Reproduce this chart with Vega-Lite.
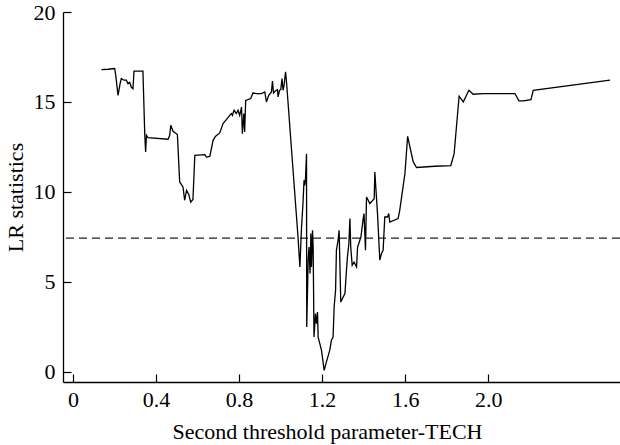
{
  "$schema": "https://vega.github.io/schema/vega-lite/v6.json",
  "autosize": "none",
  "width": 557,
  "height": 370,
  "padding": {"left": 63, "top": 12, "right": 0, "bottom": 63},
  "background": "white",
  "config": {
    "view": {"stroke": null},
    "font": "Liberation Serif",
    "axis": {
      "domainColor": "black",
      "domainWidth": 1.3,
      "tickColor": "black",
      "tickWidth": 1.2,
      "tickSize": -8,
      "grid": false,
      "labelFont": "Liberation Serif",
      "labelFontSize": 22,
      "labelColor": "black",
      "titleFont": "Liberation Serif",
      "titleFontSize": 22,
      "titleFontWeight": "normal",
      "titleColor": "black"
    }
  },
  "datasets": {
    "lr": [
      {"x": 0.137, "y": 16.80}, {"x": 0.169, "y": 16.82}, {"x": 0.201, "y": 16.86}, {"x": 0.206, "y": 16.48},
      {"x": 0.217, "y": 15.37}, {"x": 0.227, "y": 16.02}, {"x": 0.233, "y": 16.30}, {"x": 0.246, "y": 16.21},
      {"x": 0.257, "y": 16.21}, {"x": 0.265, "y": 16.02}, {"x": 0.273, "y": 16.09}, {"x": 0.281, "y": 15.83},
      {"x": 0.289, "y": 15.74}, {"x": 0.294, "y": 16.72}, {"x": 0.313, "y": 16.72}, {"x": 0.337, "y": 16.71},
      {"x": 0.346, "y": 13.15}, {"x": 0.350, "y": 12.22}, {"x": 0.354, "y": 13.15}, {"x": 0.361, "y": 13.02},
      {"x": 0.458, "y": 12.93}, {"x": 0.466, "y": 13.15}, {"x": 0.471, "y": 13.71}, {"x": 0.482, "y": 13.37},
      {"x": 0.503, "y": 13.19}, {"x": 0.514, "y": 10.56}, {"x": 0.530, "y": 10.28}, {"x": 0.538, "y": 9.54},
      {"x": 0.547, "y": 10.09}, {"x": 0.558, "y": 9.86}, {"x": 0.567, "y": 9.44}, {"x": 0.578, "y": 9.59},
      {"x": 0.587, "y": 12.04}, {"x": 0.635, "y": 12.08}, {"x": 0.643, "y": 11.94}, {"x": 0.659, "y": 11.98},
      {"x": 0.675, "y": 12.87}, {"x": 0.686, "y": 13.09}, {"x": 0.707, "y": 13.28}, {"x": 0.723, "y": 13.80},
      {"x": 0.739, "y": 14.02}, {"x": 0.755, "y": 14.26}, {"x": 0.763, "y": 14.36}, {"x": 0.768, "y": 14.26},
      {"x": 0.776, "y": 14.54}, {"x": 0.787, "y": 14.36}, {"x": 0.795, "y": 14.54}, {"x": 0.803, "y": 14.26},
      {"x": 0.812, "y": 14.72}, {"x": 0.816, "y": 13.24}, {"x": 0.823, "y": 14.36}, {"x": 0.827, "y": 13.33},
      {"x": 0.832, "y": 15.09}, {"x": 0.843, "y": 15.13}, {"x": 0.856, "y": 15.19}, {"x": 0.867, "y": 15.50},
      {"x": 0.884, "y": 15.47}, {"x": 0.908, "y": 15.47}, {"x": 0.924, "y": 15.56}, {"x": 0.932, "y": 15.00},
      {"x": 0.943, "y": 15.37}, {"x": 0.956, "y": 15.56}, {"x": 0.961, "y": 16.17}, {"x": 0.966, "y": 15.50},
      {"x": 0.975, "y": 15.61}, {"x": 0.985, "y": 15.69}, {"x": 0.988, "y": 15.28}, {"x": 0.995, "y": 15.65},
      {"x": 1.001, "y": 15.69}, {"x": 1.007, "y": 16.30}, {"x": 1.012, "y": 15.65}, {"x": 1.017, "y": 15.93},
      {"x": 1.024, "y": 16.67}, {"x": 1.028, "y": 16.21}, {"x": 1.084, "y": 7.50}, {"x": 1.093, "y": 5.83},
      {"x": 1.101, "y": 8.06}, {"x": 1.108, "y": 9.36}, {"x": 1.113, "y": 10.65}, {"x": 1.117, "y": 10.37},
      {"x": 1.120, "y": 10.74}, {"x": 1.125, "y": 12.13}, {"x": 1.126, "y": 2.50}, {"x": 1.133, "y": 6.21},
      {"x": 1.137, "y": 6.94}, {"x": 1.142, "y": 5.47}, {"x": 1.146, "y": 7.69}, {"x": 1.149, "y": 5.83},
      {"x": 1.154, "y": 7.87}, {"x": 1.157, "y": 6.94}, {"x": 1.161, "y": 1.94}, {"x": 1.168, "y": 3.24},
      {"x": 1.173, "y": 2.69}, {"x": 1.178, "y": 3.33}, {"x": 1.181, "y": 1.94}, {"x": 1.189, "y": 1.58},
      {"x": 1.197, "y": 1.21}, {"x": 1.210, "y": 0.09}, {"x": 1.221, "y": 0.56}, {"x": 1.237, "y": 1.21},
      {"x": 1.245, "y": 1.76}, {"x": 1.253, "y": 1.94}, {"x": 1.258, "y": 3.61}, {"x": 1.265, "y": 4.54},
      {"x": 1.269, "y": 6.76}, {"x": 1.277, "y": 7.32}, {"x": 1.282, "y": 7.87}, {"x": 1.290, "y": 3.89},
      {"x": 1.310, "y": 4.36}, {"x": 1.318, "y": 5.74}, {"x": 1.322, "y": 6.39}, {"x": 1.329, "y": 7.13},
      {"x": 1.334, "y": 8.52}, {"x": 1.338, "y": 6.94}, {"x": 1.345, "y": 5.93}, {"x": 1.354, "y": 6.11},
      {"x": 1.366, "y": 5.83}, {"x": 1.371, "y": 6.94}, {"x": 1.387, "y": 7.50}, {"x": 1.398, "y": 8.52},
      {"x": 1.402, "y": 8.80}, {"x": 1.409, "y": 6.76}, {"x": 1.414, "y": 9.72}, {"x": 1.430, "y": 9.36},
      {"x": 1.451, "y": 9.63}, {"x": 1.454, "y": 11.11}, {"x": 1.467, "y": 8.80}, {"x": 1.478, "y": 6.21},
      {"x": 1.486, "y": 6.58}, {"x": 1.494, "y": 6.76}, {"x": 1.502, "y": 8.61}, {"x": 1.515, "y": 8.61},
      {"x": 1.521, "y": 8.80}, {"x": 1.526, "y": 8.33}, {"x": 1.566, "y": 8.52}, {"x": 1.574, "y": 8.98},
      {"x": 1.599, "y": 11.02}, {"x": 1.612, "y": 13.09}, {"x": 1.639, "y": 11.67}, {"x": 1.655, "y": 11.36},
      {"x": 1.743, "y": 11.43}, {"x": 1.820, "y": 11.47}, {"x": 1.836, "y": 12.13}, {"x": 1.860, "y": 15.32},
      {"x": 1.880, "y": 15.00}, {"x": 1.907, "y": 15.65}, {"x": 1.928, "y": 15.43}, {"x": 1.976, "y": 15.47},
      {"x": 2.129, "y": 15.47}, {"x": 2.148, "y": 15.06}, {"x": 2.169, "y": 15.06}, {"x": 2.206, "y": 15.13},
      {"x": 2.217, "y": 15.65}, {"x": 2.587, "y": 16.21}
    ],
    "critical": [{"value": 7.44}]
  },
  "layer": [
    {
      "data": {"name": "critical"},
      "mark": {"type": "rule", "color": "#222222", "strokeWidth": 1.4, "strokeDash": [8, 5]},
      "encoding": {
        "y": {"field": "value", "type": "quantitative", "scale": {"domain": [-0.556, 20]}}
      }
    },
    {
      "data": {"name": "lr"},
      "mark": {"type": "line", "color": "black", "strokeWidth": 1.3, "strokeJoin": "miter", "interpolate": "linear"},
      "encoding": {
        "x": {
          "field": "x", "type": "quantitative",
          "scale": {"domain": [-0.048, 2.635], "nice": false, "zero": false},
          "axis": {"values": [0, 0.4, 0.8, 1.2, 1.6, 2.0], "labelExpr": "datum.value == 0 ? '0' : format(datum.value, '.1f')", "labelPadding": 15, "title": "Second threshold parameter-TECH", "titlePadding": 11, "titleX": 264}
        },
        "y": {
          "field": "y", "type": "quantitative",
          "scale": {"domain": [-0.556, 20], "nice": false, "zero": false},
          "axis": {"values": [0, 5, 10, 15, 20], "labelPadding": 16, "title": "LR statistics", "titlePadding": 6}
        }
      }
    }
  ]
}
